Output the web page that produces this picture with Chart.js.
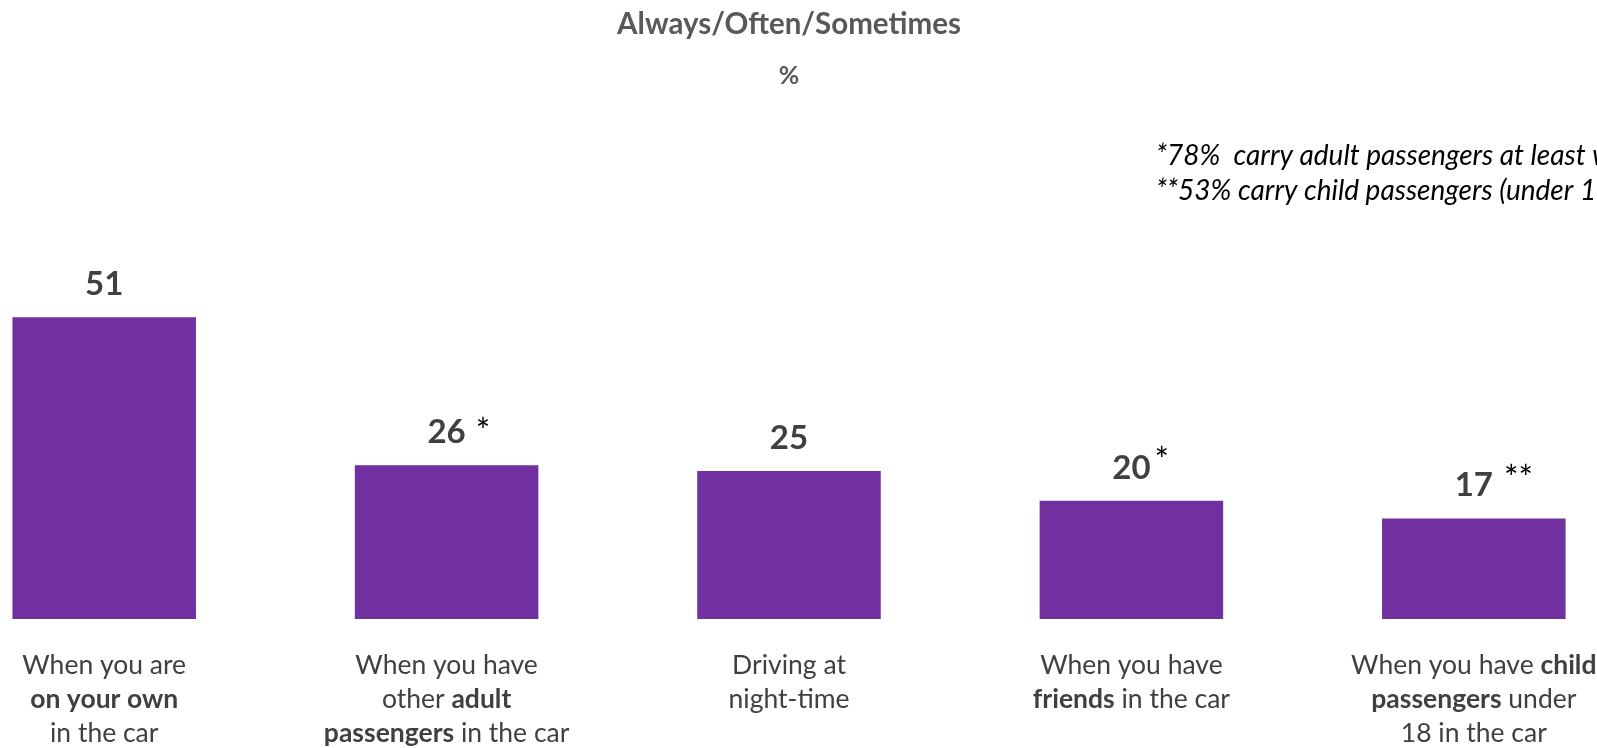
<!DOCTYPE html>
<html>
<head>
<meta charset="utf-8">
<title>Always/Often/Sometimes</title>
<script src="https://cdn.jsdelivr.net/npm/chart.js"></script>
<style>
    html, body { margin: 0; padding: 0; background: #fff; overflow: hidden; }
    #wrap { position: relative; width: 1597px; height: 748px; overflow: hidden; }
    #drivingChart { position: absolute; left: -67px; top: 0; }
</style>
</head>
<body>
<div id="wrap">
    <canvas id="drivingChart" width="1800" height="748"></canvas>
</div>

<script>
// Datos del gráfico
const chartTitle = 'Always/Often/Sometimes';
const chartUnit = '%';

// Etiquetas de categoría, una línea por elemento; <b> marca el texto en negrita
const categoryLines = [
    ['When you are', '<b>on your own</b>', 'in the car'],
    ['When you have', 'other <b>adult</b>', '<b>passengers</b> in the car'],
    ['Driving at', 'night-time'],
    ['When you have', '<b>friends</b> in the car'],
    ['When you have <b>child</b>', '<b>passengers</b> under', '18 in the car']
];

const values = [51, 26, 25, 20, 17];
const valueNotes = ['', '*', '', '*', '**'];

const footnotes = [
    '*78%  carry adult passengers at least weekly',
    '**53% carry child passengers (under 18) at least weekly'
];

document.addEventListener('DOMContentLoaded', function() {
    const FONT = 'Lato, "Open Sans", sans-serif';
    const BAR_COLOR = '#7030A0';
    const TEXT_COLOR = '#404040';

    // desplazamiento de los asteriscos respecto al número (dx, dy)
    const noteOffsets = [null, { dx: 10, dy: 0 }, null, { dx: 4, dy: -7 }, { dx: 11, dy: -6 }];

    const plainLabels = categoryLines.map(lines => lines.join(' ').replace(/<\/?b>/g, ''));

    function splitBold(line) {
        return line.split(/(<b>.*?<\/b>)/).filter(s => s.length).map(s => {
            const bold = s.startsWith('<b>');
            return { text: bold ? s.slice(3, -4) : s, bold: bold };
        });
    }

    // Dibuja títulos, valores, notas y etiquetas del eje x
    const annotations = {
        id: 'annotations',
        afterDatasetsDraw(chart) {
            const ctx = chart.ctx;
            const area = chart.chartArea;
            const xScale = chart.scales.x;
            const meta = chart.getDatasetMeta(0);
            const cx = (area.left + area.right) / 2;

            ctx.save();
            ctx.textBaseline = 'alphabetic';

            // título y unidad
            ctx.fillStyle = '#595959';
            ctx.textAlign = 'center';
            ctx.font = 'bold 29.5px ' + FONT;
            ctx.fillText(chartTitle, cx, 34);
            ctx.font = 'bold 25px ' + FONT;
            ctx.fillText(chartUnit, cx, 84);

            // notas al pie
            ctx.fillStyle = '#000';
            ctx.textAlign = 'left';
            ctx.font = 'italic 28px ' + FONT;
            footnotes.forEach((t, i) => ctx.fillText(t, 1223, 165 + i * 35));

            // valores encima de las barras
            meta.data.forEach((bar, i) => {
                const base = bar.y - 22;
                ctx.font = 'bold 33px ' + FONT;
                ctx.fillStyle = TEXT_COLOR;
                ctx.textAlign = 'center';
                const label = String(values[i]);
                ctx.fillText(label, bar.x, base);
                if (valueNotes[i]) {
                    const w = ctx.measureText(label).width;
                    const off = noteOffsets[i];
                    ctx.font = '34px ' + FONT;
                    ctx.fillStyle = '#000';
                    ctx.textAlign = 'left';
                    ctx.fillText(valueNotes[i], bar.x + w / 2 + off.dx, base + off.dy);
                }
            });

            // etiquetas de categoría con partes en negrita
            ctx.fillStyle = TEXT_COLOR;
            ctx.textAlign = 'left';
            categoryLines.forEach((lines, i) => {
                const x = xScale.getPixelForValue(i);
                lines.forEach((line, j) => {
                    const parts = splitBold(line);
                    let total = 0;
                    parts.forEach(p => {
                        ctx.font = (p.bold ? 'bold ' : '') + '26.5px ' + FONT;
                        p.w = ctx.measureText(p.text).width;
                        total += p.w;
                    });
                    let px = x - total / 2;
                    parts.forEach(p => {
                        ctx.font = (p.bold ? 'bold ' : '') + '26.5px ' + FONT;
                        ctx.fillText(p.text, px, area.bottom + 55 + j * 34);
                        px += p.w;
                    });
                });
            });

            ctx.restore();
        }
    };

    function drawChart() {
        const ctx = document.getElementById('drivingChart').getContext('2d');
        new Chart(ctx, {
            type: 'bar',
            data: {
                labels: plainLabels,
                datasets: [{
                    data: values,
                    backgroundColor: BAR_COLOR,
                    borderWidth: 0,
                    categoryPercentage: 1,
                    barPercentage: 0.536
                }]
            },
            options: {
                responsive: false,
                animation: false,
                devicePixelRatio: 1,
                layout: {
                    padding: { top: 264, bottom: 129, left: 0, right: 88 }
                },
                plugins: {
                    legend: { display: false },
                    tooltip: { enabled: false }
                },
                scales: {
                    x: { display: false },
                    y: { display: false, min: 0, max: 60 }
                }
            },
            plugins: [annotations]
        });
    }

    Promise.all([
        document.fonts.load('26px Lato'),
        document.fonts.load('bold 26px Lato'),
        document.fonts.load('italic 28px Lato')
    ]).then(drawChart, drawChart);
});
</script>
</body>
</html>
